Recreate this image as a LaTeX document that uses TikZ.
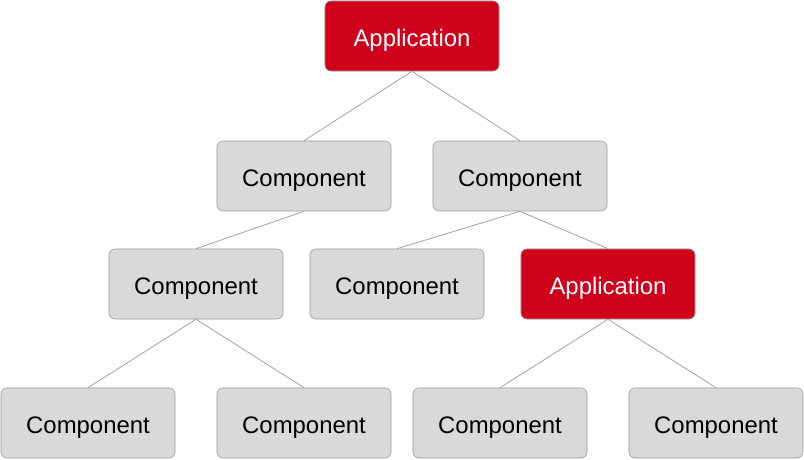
\documentclass[tikz,border=0pt]{standalone}
\usepackage{fontspec}
\setmainfont{Liberation Sans}
\definecolor{boxgray}{HTML}{D9D9D9}
\definecolor{appred}{HTML}{D0021B}
\definecolor{linegray}{HTML}{A6A6A6}
\tikzset{
    comp/.style={draw=black!40, fill=boxgray, rounded corners=0.15cm, minimum width=4.35cm, minimum height=1.75cm, text height=15.3pt, text depth=0pt, font=\fontsize{17}{20}\selectfont},
    app/.style={comp, fill=appred, text=white},
    link/.style={draw=linegray, line width=0.6pt}
}
\begin{document}
\begin{tikzpicture}[x=0.025cm, y=-0.025cm]
        \useasboundingbox (0,0) rectangle (804,460);
        \node[app] (app) at (412,36) {Application};
        \node[comp] (c1) at (304,176) {Component};
        \node[comp] (c2) at (520,176) {Component};
        \node[comp] (c3) at (196,284) {Component};
        \node[comp] (c4) at (397,284) {Component};
        \node[app] (app2) at (608,284) {Application};
        \node[comp] (c5) at (88,423) {Component};
        \node[comp] (c6) at (304,423) {Component};
        \node[comp] (c7) at (500,423) {Component};
        \node[comp] (c8) at (716,423) {Component};
        \foreach \p/\c in {app/c1,app/c2,c1/c3,c2/c4,c2/app2,c3/c5,c3/c6,app2/c7,app2/c8}
            \draw[link] (\p.south) -- (\c.north);
    \end{tikzpicture}
\end{document}
